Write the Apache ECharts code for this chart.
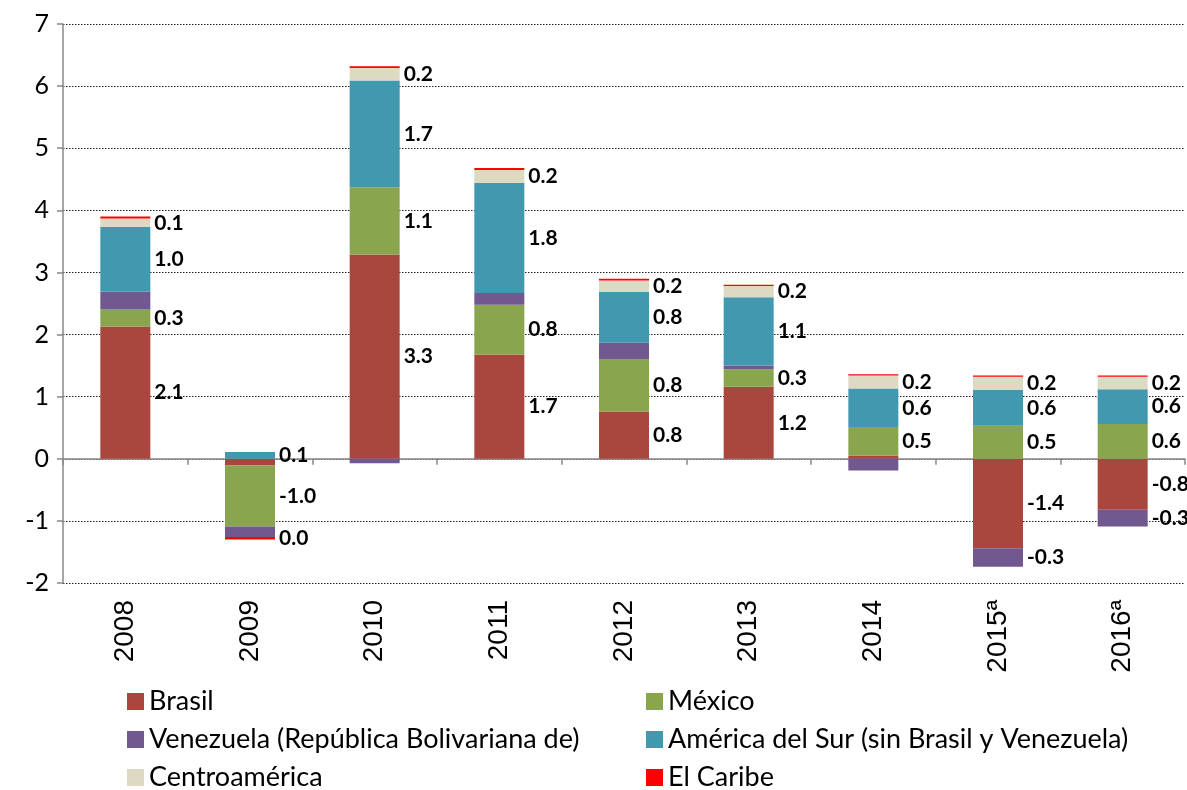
<!DOCTYPE html>
<html>
<head>
<meta charset="utf-8">
<script src="https://cdn.jsdelivr.net/npm/echarts@6/dist/echarts.min.js"></script>
<style>
  html, body { margin: 0; padding: 0; background: #fff; }
  #chart { width: 1187px; height: 790px; }
</style>
</head>
<body>
<div id="chart"></div>
<script>
// categories and values
var categories = ['2008', '2009', '2010', '2011', '2012', '2013', '2014', '2015ª', '2016ª'];
var brasil    = [2.13, -0.11, 3.29, 1.68, 0.76, 1.16, 0.05, -1.44, -0.82];
var mexico    = [0.28, -0.98, 1.08, 0.80, 0.84, 0.28, 0.46, 0.53, 0.56];
var venezuela = [0.28, -0.17, -0.07, 0.19, 0.27, 0.06, -0.19, -0.30, -0.27];
var amSur     = [1.04, 0.11, 1.72, 1.77, 0.82, 1.10, 0.62, 0.58, 0.56];
var centro    = [0.14, 0, 0.20, 0.21, 0.18, 0.18, 0.21, 0.21, 0.20];
var caribe    = [0.03, -0.04, 0.03, 0.03, 0.03, 0.02, 0.02, 0.02, 0.02];
var yTicks = [-2, -1, 0, 1, 2, 3, 4, 5, 6, 7];

var names = ['Brasil', 'México', 'Venezuela (República Bolivariana de)',
  'América del Sur (sin Brasil y Venezuela)', 'Centroamérica', 'El Caribe'];
var colors = ['#A9473F', '#89A54E', '#71588F', '#4298AF', '#DDD9C3', '#FF0000'];
// which categories carry a value label, per series
var labelled = [
  [0, 2, 3, 4, 5, 7, 8],
  [0, 1, 2, 3, 4, 5, 6, 7, 8],
  [7, 8],
  [0, 1, 2, 3, 4, 5, 6, 7, 8],
  [0, 2, 3, 4, 5, 6, 7, 8],
  [1]
];
var values = [brasil, mexico, venezuela, amSur, centro, caribe];

var font = 'Lato';

function fmt(p) {
  var s = Number(p.value).toFixed(1);
  if (s === '-0.0') s = '0.0';
  return s;
}

var series = values.map(function (arr, k) {
  return {
    name: names[k],
    type: 'bar',
    stack: 'total',
    barWidth: 50,
    xAxisIndex: 0,
    itemStyle: { color: colors[k] },
    label: {
      position: 'right',
      distance: 4,
      fontFamily: font,
      fontWeight: 'bold',
      fontSize: 21,
      color: '#000',
      formatter: fmt
    },
    data: arr.map(function (v, i) {
      return { value: v, label: { show: labelled[k].indexOf(i) >= 0 } };
    })
  };
});

var legendBase = {
  orient: 'vertical',
  top: 683,
  height: 120,
  selectedMode: false,
  icon: 'rect',
  itemWidth: 17,
  itemHeight: 17,
  itemGap: 11,
  textStyle: { fontFamily: font, fontSize: 27, color: '#000' }
};

var chart = echarts.init(document.getElementById('chart'));
chart.setOption({
  animation: false,
  grid: { left: 63, right: 2, top: 24, bottom: 207, containLabel: false },
  xAxis: [
    {
      type: 'category',
      data: categories,
      position: 'bottom',
      axisLine: { show: false, onZero: false },
      axisTick: { show: false },
      axisLabel: {
        interval: 0,
        rotate: 90,
        margin: 17,
        fontFamily: 'Liberation Sans',
        fontSize: 28,
        color: '#000'
      }
    },
    {
      type: 'category',
      data: categories,
      position: 'top',
      axisLine: { show: true, onZero: true, lineStyle: { color: '#888', width: 1.5 } },
      axisTick: { show: true, inside: true, length: 6, lineStyle: { color: '#888', width: 1.5 } },
      axisLabel: { show: false }
    }
  ],
  yAxis: {
    type: 'value',
    min: yTicks[0],
    max: yTicks[yTicks.length - 1],
    interval: 1,
    axisLine: { show: true, lineStyle: { color: '#888', width: 1.5 } },
    axisTick: { show: true, length: 6, lineStyle: { color: '#888', width: 1.5 } },
    axisLabel: { fontFamily: font, fontSize: 25, color: '#000', margin: 14 },
    splitLine: { show: true, lineStyle: { color: '#222', width: 1, type: [1.5, 1.5] } }
  },
  legend: [
    Object.assign({}, legendBase, { left: 122, data: [names[0], names[2], names[4]] }),
    Object.assign({}, legendBase, { left: 641, data: [names[1], names[3], names[5]] })
  ],
  series: series
});
</script>
</body>
</html>
